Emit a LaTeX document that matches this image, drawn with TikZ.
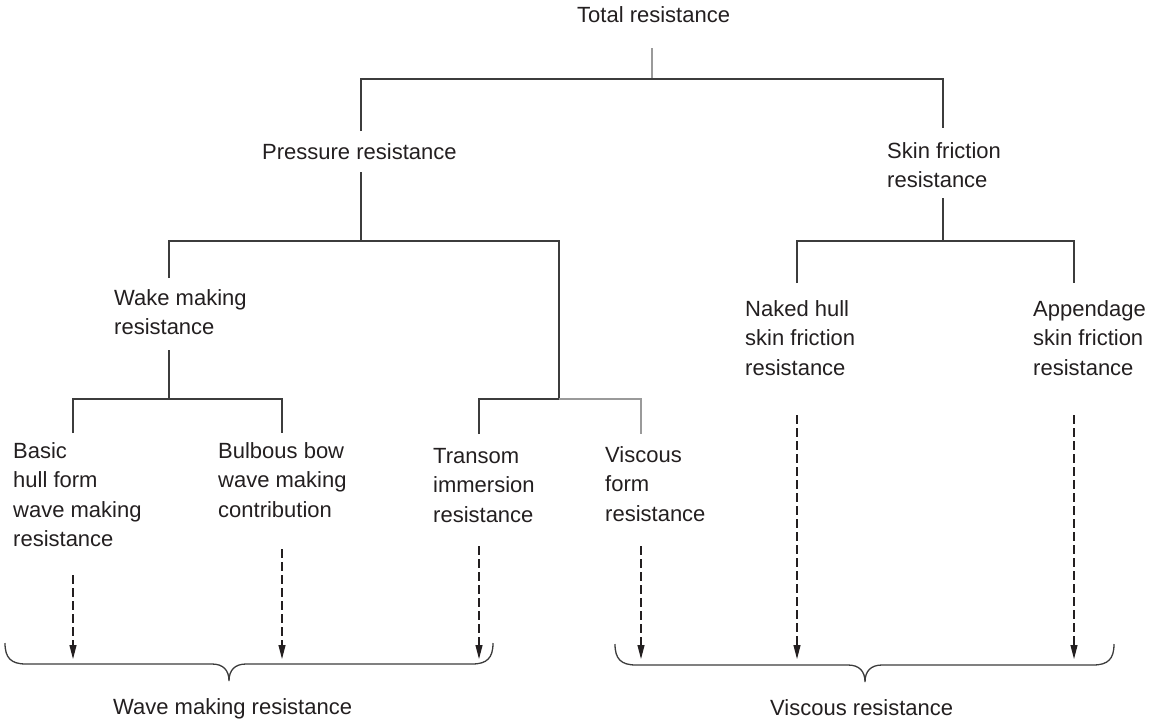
\documentclass[tikz,border=0pt]{standalone}
\usepackage{fontspec}
\setmainfont{Liberation Sans}
\usetikzlibrary{arrows.meta}
\definecolor{ink}{HTML}{231F20}
\definecolor{linec}{HTML}{3C3C3C}
\definecolor{lineg}{HTML}{9A9A9A}
\tikzset{
  lbl/.style={inner sep=0pt, anchor=base west, align=left, text=ink,
    font=\fontsize{22}{29.5}\selectfont},
  tree/.style={draw=linec, line width=1.3pt},
  treeg/.style={draw=lineg, line width=1.3pt},
  flow/.style={draw=ink, line width=1.1pt, dash pattern=on 9pt off 4pt,
    -{Triangle[length=14pt,width=7pt]}},
  brace/.style={draw=linec, line width=1.3pt}
}
\begin{document}
\begin{tikzpicture}[x=1pt,y=-1pt]
\useasboundingbox (0,0) rectangle (1150,720);
% text nodes (anchor = baseline of the last line)
\node[lbl] (total) at (577,22) {Total resistance};
\node[lbl] (pressure) at (262,159) {Pressure resistance};
\node[lbl] (skin) at (887,187.5) {Skin friction\\resistance};
\node[lbl] (wake) at (114,334.5) {Wake making\\resistance};
\node[lbl] (naked) at (745,375) {Naked hull\\skin friction\\resistance};
\node[lbl] (append) at (1033,375) {Appendage\\skin friction\\resistance};
\node[lbl] (basic) at (13,546.5) {Basic\\hull form\\wave making\\resistance};
\node[lbl] (bulbous) at (218,517) {Bulbous bow\\wave making\\contribution};
\node[lbl] (transom) at (433,522) {Transom\\immersion\\resistance};
\node[lbl] (viscform) at (605,521) {Viscous\\form\\resistance};
\node[lbl] (wavelabel) at (113,714) {Wave making resistance};
\node[lbl] (visclabel) at (770,715) {Viscous resistance};
% junction coordinates
\coordinate (t0) at (652,48);
\coordinate (t1) at (652,79);
\coordinate (pT) at (361,131);
\coordinate (sT) at (943,128);
\coordinate (pB) at (361,172);
\coordinate (pJ) at (361,241);
\coordinate (wT) at (169,278);
\coordinate (trJ) at (559,399);
\coordinate (sB) at (943,198);
\coordinate (sJ) at (943,241);
\coordinate (nT) at (797,283);
\coordinate (aT) at (1074,283);
\coordinate (wB) at (169,350);
\coordinate (wJ) at (169,399);
\coordinate (bT) at (73,433);
\coordinate (buT) at (282,433);
\coordinate (trT) at (479,434);
\coordinate (vfT) at (641,434);
% tree connectors
\draw[treeg] (t0) -- (t1);
\draw[tree] (pT) |- (t1) -| (sT);
\draw[tree] (pB) -- (pJ);
\draw[tree] (wT) |- (pJ) -| (trJ);
\draw[tree] (sB) -- (sJ);
\draw[tree] (nT) |- (sJ) -| (aT);
\draw[tree] (wB) -- (wJ);
\draw[tree] (bT) |- (wJ) -| (buT);
\draw[tree] (trT) |- (trJ);
\draw[treeg] (trJ) -| (vfT);
% dashed arrows
\coordinate (bS) at (73,575);  \coordinate (bE) at (73,659);
\coordinate (buS) at (282,549); \coordinate (buE) at (282,659);
\coordinate (trS) at (479,546); \coordinate (trE) at (479,659);
\coordinate (vfS) at (641,546); \coordinate (vfE) at (641,659);
\coordinate (nS) at (797,415); \coordinate (nE) at (797,659);
\coordinate (aS) at (1074,415); \coordinate (aE) at (1074,659);
\draw[flow] (bS) -- (bE);
\draw[flow] (buS) -- (buE);
\draw[flow] (trS) -- (trE);
\draw[flow] (vfS) -- (vfE);
\draw[flow] (nS) -- (nE);
\draw[flow] (aS) -- (aE);
% braces
\draw[brace] (5,643) .. controls (5,658) and (11,664) .. (26,664) -- (212,664)
  .. controls (223,664) and (229,670) .. (229,681)
  .. controls (229,670) and (235,664) .. (246,664) -- (472,664)
  .. controls (487,664) and (493,658) .. (493,643);
\draw[brace] (615,644) .. controls (615,659) and (621,665) .. (636,665) -- (848,665)
  .. controls (859,665) and (865,671) .. (865,682)
  .. controls (865,671) and (871,665) .. (882,665) -- (1093,665)
  .. controls (1108,665) and (1114,659) .. (1114,644);
\end{tikzpicture}
\end{document}
